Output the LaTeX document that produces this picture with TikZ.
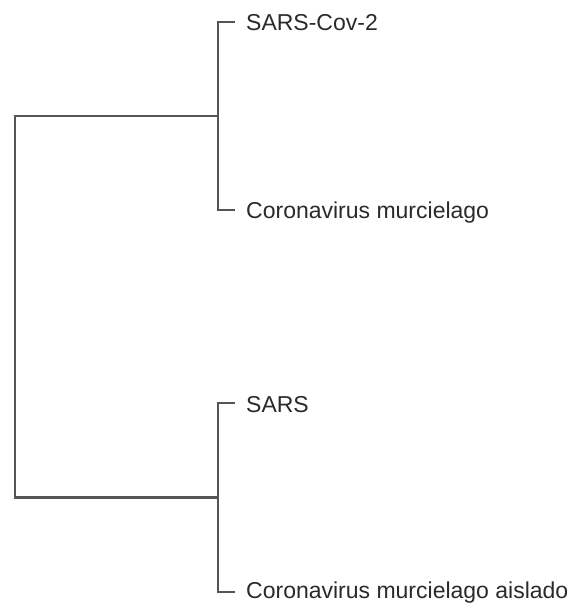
\documentclass[tikz,border=0pt]{standalone}
\usepackage{fontspec}
\setmainfont{Liberation Sans}
\definecolor{branch}{HTML}{555555}
\definecolor{labeltext}{HTML}{2A2A2A}
\begin{document}
\begin{tikzpicture}[x=1pt,y=-1pt,
  branchline/.style={draw=branch,line width=2.2pt,line join=miter},
  leaf/.style={anchor=west,inner sep=0pt,text=labeltext,font=\fontsize{23}{26}\selectfont}]
\useasboundingbox (0,0) rectangle (569,610);
% internal nodes / tips as coordinates
\coordinate (root) at (15,306);
\coordinate (c1) at (218,116);
\coordinate (c2) at (218,497.5);
\coordinate (t1) at (235,22);
\coordinate (t2) at (235,210);
\coordinate (t3) at (235,403);
\coordinate (t4) at (235,592);
\node[leaf] (l1) at (246,23) {SARS-Cov-2};
\node[leaf] (l2) at (246,213) {Coronavirus murcielago};
\node[leaf] (l3) at (246,405) {SARS};
\node[leaf] (l4) at (246,593) {Coronavirus murcielago aislado};
\draw[branchline] (c1) -| (root) |- (c2);
\draw[branchline] (t1) -| (c1) |- (t2);
\draw[branchline] (t3) -| (c2) |- (t4);
\end{tikzpicture}
\end{document}
